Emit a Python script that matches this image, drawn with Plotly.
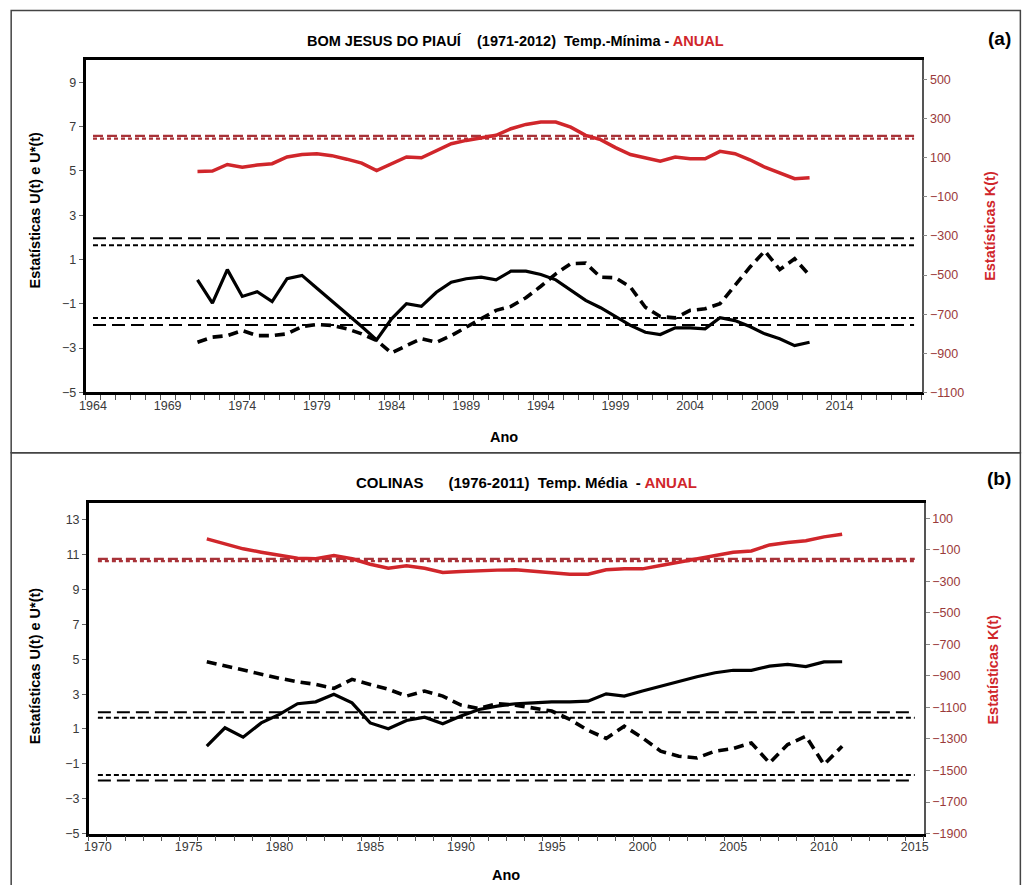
import plotly.graph_objects as go

W, H = 1027, 885

# ---------------- Panel (a): BOM JESUS DO PIAUÍ ----------------
years_a = list(range(1971, 2013))
u_a = [0.08, -0.97, 0.54, -0.67, -0.46, -0.90, 0.13, 0.28, -0.30, -0.87,
       -1.45, -2.03, -2.63, -1.68, -1.00, -1.12, -0.48, -0.03, 0.13, 0.20,
       0.08, 0.47, 0.47, 0.32, 0.08, -0.40, -0.85, -1.18, -1.60, -1.98,
       -2.29, -2.39, -2.09, -2.09, -2.13, -1.63, -1.76, -2.03, -2.36, -2.58,
       -2.89, -2.74]
ustar_a = [-2.74, -2.51, -2.44, -2.21, -2.44, -2.44, -2.36, -2.03, -1.94, -1.98,
           -2.13, -2.36, -2.66, -3.22, -2.89, -2.58, -2.74, -2.44, -2.06, -1.68,
           -1.30, -1.12, -0.73, -0.21, 0.35, 0.81, 0.83, 0.20, 0.17, -0.25,
           -1.16, -1.58, -1.64, -1.30, -1.23, -1.00, -0.17, 0.65, 1.38, 0.54,
           1.03, 0.28]
k_a = [30, 32, 66, 52, 63, 70, 104, 117, 121, 111,
       93, 73, 35, 70, 104, 100, 134, 172, 189, 203,
       215, 249, 271, 283, 283, 257, 215, 193, 152, 117,
       98, 83, 104, 95, 95, 133, 121, 90, 52, 22,
       -7, -2]
cat_a = list(range(1964, 2020))
ticks_x_a = list(range(1964, 2015, 5))
ticks_u_a = list(range(-5, 10, 2))
ticks_k_a = list(range(-1100, 501, 200))
crit_u_long_a = [1.96, -1.96]
crit_u_short_a = [1.645, -1.645]
crit_k_long_a = 212
crit_k_short_a = 198

# ---------------- Panel (b): COLINAS ----------------
years_b = list(range(1976, 2012))
u_b = [0.01, 1.07, 0.53, 1.35, 1.84, 2.45, 2.56, 2.99, 2.50, 1.35,
       1.01, 1.49, 1.68, 1.30, 1.74, 2.12, 2.31, 2.45, 2.50, 2.56,
       2.56, 2.60, 3.02, 2.89, 3.18, 3.46, 3.75, 4.00, 4.23, 4.37,
       4.37, 4.61, 4.71, 4.58, 4.85, 4.86]
ustar_b = [4.86, 4.61, 4.37, 4.14, 3.91, 3.71, 3.56, 3.33, 3.85, 3.56,
           3.28, 2.89, 3.18, 2.89, 2.37, 2.18, 2.45, 2.37, 2.22, 2.03,
           1.55, 0.92, 0.46, 1.16, 0.49, -0.27, -0.56, -0.66, -0.27, -0.12,
           0.20, -0.95, 0.11, 0.59, -1.04, 0.01]
k_b = [-31, -65, -94, -115, -136, -153, -157, -136, -157, -192,
       -217, -202, -217, -244, -238, -231, -229, -227, -238, -244,
       -255, -255, -227, -221, -221, -200, -179, -153, -132, -115,
       -107, -69, -54, -43, -18, -1]
cat_b = list(range(1970, 2016))
ticks_x_b = list(range(1970, 2016, 5))
ticks_u_b = list(range(-5, 14, 2))
ticks_k_b = list(range(-1900, 101, 200))
crit_u_long_b = [1.96, -1.96]
crit_u_short_b = [1.645, -1.645]
crit_k_long_b = -158
crit_k_short_b = -172

RED = "#d0262b"
DRED = "#a83238"
TICKC = "#3a3a3a"
RTICKC = "#9a3a3a"
FONT = "Liberation Sans, Arial, sans-serif"

fig = go.Figure()


def add_panel(xa, ya, ya2, years, u, ustar, k, cats, cul, cus, ckl, cks):
    fig.add_trace(go.Scatter(x=cats, y=[ckl] * len(cats), xaxis=xa, yaxis=ya2,
                             mode="lines", line=dict(color=DRED, width=2.2, dash="10px,4px"),
                             showlegend=False, hoverinfo="skip"))
    fig.add_trace(go.Scatter(x=cats, y=[cks] * len(cats), xaxis=xa, yaxis=ya2,
                             mode="lines", line=dict(color=DRED, width=2.2, dash="4px,3px"),
                             showlegend=False, hoverinfo="skip"))
    fig.add_trace(go.Scatter(x=years, y=k, xaxis=xa, yaxis=ya2, mode="lines",
                             line=dict(color=RED, width=3.5), showlegend=False))
    for v in cul:
        fig.add_trace(go.Scatter(x=cats, y=[v] * len(cats), xaxis=xa, yaxis=ya,
                                 mode="lines", line=dict(color="black", width=2, dash="13px,6px"),
                                 showlegend=False, hoverinfo="skip"))
    for v in cus:
        fig.add_trace(go.Scatter(x=cats, y=[v] * len(cats), xaxis=xa, yaxis=ya,
                                 mode="lines", line=dict(color="black", width=2, dash="5px,3px"),
                                 showlegend=False, hoverinfo="skip"))
    fig.add_trace(go.Scatter(x=years, y=u, xaxis=xa, yaxis=ya, mode="lines",
                             line=dict(color="black", width=3.2), showlegend=False))
    fig.add_trace(go.Scatter(x=years, y=ustar, xaxis=xa, yaxis=ya, mode="lines",
                             line=dict(color="black", width=3.6, dash="10px,6px"),
                             showlegend=False))


add_panel("x", "y", "y2", years_a, u_a, ustar_a, k_a, cat_a,
          crit_u_long_a, crit_u_short_a, crit_k_long_a, crit_k_short_a)
add_panel("x2", "y3", "y4", years_b, u_b, ustar_b, k_b, cat_b,
          crit_u_long_b, crit_u_short_b, crit_k_long_b, crit_k_short_b)


# pixel positions measured on the reference, converted to paper fractions
def px_x(p):
    return ((p - 2.8) / 0.994) / W


def px_y(p):
    return 1 - (p / 0.9905) / H


xcommon = dict(showline=True, linewidth=2.5, linecolor="black", mirror=True,
               showgrid=False, zeroline=False, tickmode="array", ticks="",
               tickfont=dict(family=FONT, size=12.5, color=TICKC))
minor_common = dict(ticks="outside", tickmode="linear", dtick=1,
                    ticklen=5, tickwidth=1, tickcolor="#555")
ycommon = dict(showline=True, linewidth=2.5, linecolor="black", showgrid=False,
               zeroline=False, tickmode="array", ticks="outside", ticklen=4,
               tickcolor="#666", tickfont=dict(family=FONT, size=12.5, color=TICKC))
y2common = dict(showline=True, linewidth=1.8, linecolor="#555", showgrid=False,
                zeroline=False, tickmode="array", ticks="outside", ticklen=4,
                tickcolor="#888", side="right",
                tickfont=dict(family=FONT, size=12.5, color=RTICKC))

fig.update_layout(
    width=W, height=H, margin=dict(l=0, r=0, t=0, b=0),
    paper_bgcolor="white", plot_bgcolor="white",
    xaxis=dict(xcommon, domain=[px_x(82.7), px_x(922.7)], range=[1963.5, 2019.5],
               tickvals=ticks_x_a, anchor="y",
               minor=dict(minor_common, tick0=1963.5)),
    yaxis=dict(ycommon, domain=[px_y(391.7), px_y(60)], range=[-5, 10],
               tickvals=ticks_u_a, anchor="x"),
    yaxis2=dict(y2common, overlaying="y", anchor="x", range=[-1100, 600],
                tickvals=ticks_k_a),
    xaxis2=dict(xcommon, domain=[px_x(86), px_x(925)], range=[1969.5, 2015.5],
                tickvals=ticks_x_b, anchor="y3",
                minor=dict(minor_common, tick0=1969.5)),
    yaxis3=dict(ycommon, domain=[px_y(832.2), px_y(501.7)], range=[-5, 14],
                tickvals=ticks_u_b, anchor="x2"),
    yaxis4=dict(y2common, overlaying="y3", anchor="x2", range=[-1900, 200],
                tickvals=ticks_k_b),
)

ann = []


def A(text, x, y, size=13, color="black", angle=0, bold=True):
    t = f"<b>{text}</b>" if bold else text
    ann.append(dict(text=t, x=px_x(x), y=px_y(y), xref="paper", yref="paper",
                    showarrow=False, textangle=angle, xanchor="center", yanchor="middle",
                    font=dict(family=FONT, size=size, color=color)))


SP = "&nbsp;"
A("BOM JESUS DO PIAUÍ" + SP * 4 + "(1971-2012)" + SP * 2 + "Temp.-Mínima - "
  f"<span style='color:{RED}'>ANUAL</span>", 515, 41, size=14.5)
A("COLINAS" + SP * 6 + "(1976-2011)" + SP * 2 + "Temp. Média" + SP * 2 + "- "
  f"<span style='color:{RED}'>ANUAL</span>", 526, 482, size=15)
A("(a)", 1001, 38, size=19)
A("(b)", 1001, 478, size=19)
A("Ano", 503, 436, size=14.5)
A("Ano", 505, 874, size=14.5)
A("Estatísticas U(t) e U*(t)", 32, 210, size=14.5, angle=-90)
A("Estatísticas U(t) e U*(t)", 32, 665, size=14.5, angle=-90)
A("Estatísticas K(t)", 992, 226, size=14.5, color=RED, angle=-90)
A("Estatísticas K(t)", 995, 668, size=14.5, color=RED, angle=-90)
fig.update_layout(annotations=ann)

fig.update_layout(shapes=[
    dict(type="rect", xref="paper", yref="paper", x0=px_x(8), x1=px_x(1022),
         y0=px_y(452), y1=px_y(10.5), line=dict(color="#444", width=1.5)),
    dict(type="rect", xref="paper", yref="paper", x0=px_x(8), x1=px_x(1022),
         y0=-0.05, y1=px_y(452), line=dict(color="#444", width=1.5)),
])

# remove the browser's default page margin so the 1027x885 figure fills the window
fig.write_html("out.html",
               config={"displayModeBar": False},
               post_script="document.body.style.margin='0';"
                           "document.documentElement.style.overflow='hidden';")
